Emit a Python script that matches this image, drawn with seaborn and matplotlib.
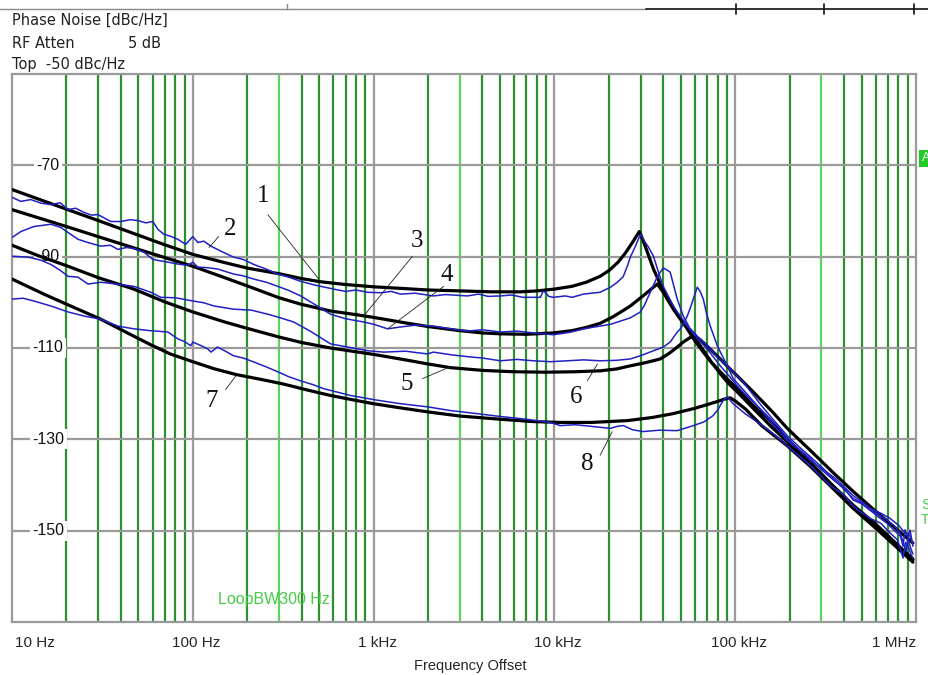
import numpy as np
import pandas as pd
import matplotlib
matplotlib.use("Agg")
import matplotlib.pyplot as plt
import matplotlib.transforms as mtransforms
from matplotlib.lines import Line2D
import seaborn as sns

# ---- data (frequency offset in Hz, phase noise in dBc/Hz) ----
# theoretical curves (black)
calc1_f = [10, 20, 31, 50, 70, 100, 150, 200, 306, 400, 510, 700, 1000, 1500, 2000, 3025, 4500,
           6480, 8000, 10000, 12500, 15000, 17900, 20100, 22500, 24700, 27000, 29500,
           31000, 33000, 35300, 39000, 43700, 48000, 54300, 60000, 66600, 74000, 82600, 92000,
           102600, 125000, 156000, 194000, 260000, 340000, 449000, 600000, 800000, 961000]
calc1_db = [-75.3, -79.6, -82.3, -85.3, -87.4, -89.5, -91.3, -92.5, -93.8, -94.8, -95.5, -96.1, -96.6, -97.0, -97.3, -97.5, -97.7,
            -97.7, -97.5, -97.1, -96.5, -95.6, -94.3, -93.0, -91.2, -89.2, -86.9, -84.5,
            -86.5, -89.5, -92.7, -96.5, -99.9, -102.8, -105.8, -108.5, -110.9, -113.2, -115.2, -117.1,
            -118.9, -122.5, -125.9, -130.0, -135.0, -139.8, -144.4, -148.6, -153.3, -156.2]

calc2_f = [10, 20, 31, 50, 70, 100, 150, 200, 300, 395, 578, 800, 1000, 1500, 2000, 3000, 4000,
           5030, 7000, 9870, 12500, 15000, 17900, 21000, 24000, 26300, 30000, 32700, 35000, 37100,
           40000, 42100, 46000, 51600, 57000, 64100, 72000, 82600, 92000, 102600, 130000, 160000,
           194000, 260000, 340000, 449000, 600000, 800000, 961000]
calc2_db = [-79.7, -83.4, -85.8, -88.4, -90.2, -92.1, -94.6, -96.4, -99.0, -100.4, -101.9, -102.7, -103.3, -104.5, -105.3, -106.2, -106.7,
            -106.9, -107.0, -106.7, -106.2, -105.5, -104.6, -103.2, -101.8, -100.8, -99.0, -97.8, -96.8, -96.0,
            -97.8, -99.3, -101.8, -104.3, -106.7, -109.5, -112.5, -115.6, -117.8, -119.6, -123.8, -127.4,
            -130.5, -135.5, -140.2, -144.7, -148.9, -153.5, -156.4]

calc3_f = [10, 14, 20.4, 30, 47.2, 70, 100, 150, 200, 300, 400, 578, 1000, 1500, 2000, 2660, 4000,
           5930, 9000, 13000, 17900, 22000, 26300, 32000, 38500, 43000, 47800, 52000, 56400, 60000,
           64100, 70000, 76000, 82600, 92000, 102600, 125700, 160000, 194000, 260000, 340000,
           449000, 600000, 800000, 961000]
calc3_db = [-87.5, -89.8, -92.1, -94.6, -97.1, -99.9, -102.1, -104.3, -105.7, -107.6, -108.8, -110.0, -111.4, -112.6, -113.5, -114.3, -114.9,
            -115.2, -115.3, -115.2, -115.0, -114.6, -113.9, -113.2, -112.4, -111.2, -109.8, -108.6, -107.7, -107.5,
            -108.2, -109.6, -111.0, -112.4, -114.3, -116.1, -119.6, -123.9, -127.6, -132.4, -136.9,
            -141.4, -145.8, -150.0, -152.7]

calc4_f = [10, 15, 20, 31, 45, 58.6, 75, 100, 130, 173, 240, 318, 430, 578, 780, 1000, 1400, 2000,
           3000, 5030, 7500, 10800, 16000, 25300, 35000, 45000, 58600, 70000, 80000, 87000, 93800,
           100000, 113500, 140000, 194000, 260000, 340000, 449000, 600000, 800000, 961000]
calc4_db = [-94.9, -98.2, -100.4, -103.7, -107.0, -109.3, -111.3, -113.0, -114.5, -115.8, -116.9, -117.9, -119.2, -120.4, -121.4, -122.2, -123.1, -124.0,
            -124.9, -125.6, -126.1, -126.3, -126.3, -125.9, -125.2, -124.4, -123.3, -122.4, -121.7, -121.2, -120.9,
            -121.6, -123.3, -127.0, -131.4, -135.9, -140.4, -145.1, -149.5, -154.0, -156.9]

# measured curves (blue)
meas1_f = [10, 11.2, 12.7, 14.5, 16.4, 18.5, 20.4, 22.5, 25.0, 27.5, 29.9, 35.2, 40.0, 45.0, 49.7, 55.0,
           60.1, 64.1, 69.2, 75.0, 82.6, 91.4, 100, 106.6, 115, 126, 145, 168, 190, 217, 250, 295,
           340, 395, 470, 601, 700, 800, 927, 1100, 1250, 1408, 1700, 2140, 2500, 3000, 3306, 3800,
           4300, 5030, 5800, 6700, 7660, 8370, 8650, 8910, 9300, 9870, 11500, 12500, 14500, 16000,
           17900, 20400, 22300, 24000, 25300, 26300, 28000, 29900, 31000, 33000, 35300, 37500,
           40000, 45400, 54300, 62000, 70000, 82600, 92000, 102600, 112000, 125700, 140000,
           156000, 175000, 194000, 229000, 260000, 295000, 357000, 400000, 449000, 500000,
           557000, 620000, 692000, 785000, 820000, 848000, 870000, 903000, 930000, 961000]
meas1_db = [-77.0, -77.9, -77.5, -78.3, -78.6, -78.2, -79.7, -79.4, -80.3, -80.9, -80.8, -82.3, -82.3, -81.9, -82.1, -82.6,
            -82.3, -84.0, -85.1, -85.5, -86.2, -87.3, -85.6, -86.9, -86.6, -87.7, -88.9, -90.1, -90.6, -91.7, -92.6, -93.8,
            -94.5, -95.4, -96.2, -97.1, -97.6, -97.3, -97.8, -97.9, -97.6, -98.2, -98.0, -98.6, -98.3, -98.5, -98.6, -98.2,
            -98.7, -98.6, -98.4, -98.9, -98.9, -98.9, -97.6, -97.8, -98.7, -98.9, -98.6, -98.9, -98.2, -98.0,
            -97.8, -96.7, -95.6, -94.4, -92.1, -90.1, -87.8, -85.1, -86.2, -87.8, -89.9, -93.2,
            -96.5, -100.8, -105.2, -108.0, -110.2, -113.9, -116.0, -118.3, -119.9, -121.8, -123.6,
            -125.5, -127.5, -129.8, -132.4, -134.2, -136.4, -139.2, -140.6, -143.3, -144.1,
            -145.5, -147.0, -148.4, -150.5, -151.2, -153.4, -149.8, -151.6, -153.6, -155.1]

meas2_f = [10, 11.2, 13.2, 16.4, 18.6, 20.4, 23.2, 26.3, 31.0, 35.0, 38.5, 43.0, 47.2, 53.6, 60.1, 66.0,
           72.8, 82.0, 93.8, 100, 106.6, 120, 137, 168, 190, 217, 255, 295, 340, 395, 470, 578,
           700, 881, 1000, 1195, 1408, 1700, 2140, 2660, 3306, 4000, 5030, 6200, 7660, 9870,
           12000, 14500, 17900, 20500, 23200, 26300, 29900, 31500, 33900, 36500, 38500, 40000,
           41500, 43700, 47800, 51600, 56000, 61700, 68000, 75500, 84000, 93800, 110600, 122000,
           137000, 160000, 194000, 225000, 260000, 300000, 357000, 449000, 500000, 557000, 620000,
           692000, 760000, 816000, 850000, 881000, 905000, 927000, 961000]
meas2_db = [-85.8, -84.5, -83.4, -82.9, -83.6, -84.7, -86.2, -86.9, -87.7, -87.5, -88.4, -88.0, -88.2, -89.0, -90.6, -90.9,
            -91.2, -91.6, -91.9, -91.2, -92.3, -92.4, -92.7, -93.8, -94.2, -94.9, -95.6, -96.5, -97.4, -98.6, -100.4, -102.6,
            -103.6, -104.3, -104.8, -105.8, -105.4, -105.0, -105.2, -105.8, -106.3, -106.0, -106.5, -106.3, -106.7, -107.1,
            -106.6, -105.8, -105.2, -104.8, -104.1, -103.4, -102.1, -100.6, -97.8, -95.0, -93.4, -92.5,
            -92.8, -93.4, -99.3, -103.0, -105.6, -107.4, -109.0, -110.9, -112.8, -114.6, -117.4, -119.6,
            -122.2, -125.4, -129.2, -131.6, -133.8, -136.0, -139.0, -142.9, -143.9, -145.5, -146.4,
            -147.7, -149.0, -150.5, -152.6, -154.5, -151.0, -149.9, -153.4]

meas3_f = [10, 12.3, 14.5, 16.4, 18.5, 20.4, 23.2, 26.3, 31.0, 38.0, 47.2, 58.6, 66.5, 80.0, 100, 115,
           131, 168, 210, 260, 300, 361, 450, 578, 700, 927, 1135, 1500, 1986, 2140, 2700, 3306,
           4000, 5030, 6200, 7660, 9500, 11800, 14500, 17900, 22000, 26300, 29900, 35300, 40000,
           43700, 47800, 49700, 52000, 54300, 56500, 58600, 61700, 64000, 66600, 69500, 72800,
           79600, 90300, 97500, 113500, 137000, 160000, 194000, 225000, 260000, 357000, 449000,
           500000, 557000, 640000, 718000, 800000, 869000, 920000, 961000]
meas3_db = [-89.9, -90.1, -90.8, -91.7, -93.0, -94.3, -94.5, -96.0, -95.6, -96.0, -96.5, -97.8, -98.9, -99.0, -99.7, -100.1,
            -100.8, -101.5, -101.7, -102.6, -103.3, -104.3, -106.4, -109.1, -109.7, -110.6, -110.9, -110.7, -111.3, -110.9, -111.5, -111.9,
            -112.2, -112.8, -112.5, -112.8, -113.0, -112.8, -112.6, -112.8, -112.7, -112.4, -111.7, -110.6, -109.8,
            -108.7, -106.5, -105.8, -104.6, -103.0, -101.2, -99.3, -96.7, -97.6, -99.3, -102.5, -105.2,
            -109.5, -113.9, -116.7, -119.6, -123.3, -126.5, -130.3, -132.2, -134.6, -138.5, -142.3,
            -143.6, -145.1, -146.2, -147.3, -148.8, -150.5, -151.0, -152.7]

meas4_f = [10, 11.5, 13.2, 16.4, 20.4, 25.0, 31.0, 38.5, 47.2, 58.0, 72.8, 82.6, 90.0, 97.5, 100, 110,
           121, 126, 137, 150, 168, 190, 209, 250, 295, 340, 395, 460, 529, 620, 746, 1000, 1408,
           2000, 2660, 3600, 5030, 7000, 9500, 10800, 13000, 16400, 20400, 22500, 24100, 27000,
           31000, 38000, 47800, 58600, 67000, 75500, 80500, 85800, 90300, 97500, 113500, 137000,
           160000, 194000, 260000, 335000, 400000, 449000, 557000, 640000, 718000, 790000, 848000,
           875000, 903000, 935000, 961000]
meas4_db = [-99.3, -99.1, -99.7, -100.8, -102.1, -103.0, -103.7, -105.2, -105.8, -106.2, -106.5, -108.0, -108.6, -109.5, -108.7, -109.4,
            -110.2, -110.9, -109.8, -110.6, -111.7, -112.2, -112.8, -114.0, -115.2, -116.3, -117.2, -118.0, -118.9, -119.6, -120.4, -121.3, -122.2,
            -122.9, -123.7, -124.3, -125.0, -125.6, -126.3, -127.0, -126.8, -127.2, -127.6, -127.1, -127.0, -127.9,
            -128.3, -128.0, -128.1, -127.0, -126.2, -124.8, -123.4, -121.5, -120.7, -122.2, -124.4, -126.6,
            -128.6, -131.4, -135.7, -140.1, -142.2, -144.7, -147.3, -148.4, -150.5, -152.0, -156.0,
            -152.6, -153.4, -155.0, -156.0]

# curve numbers with leader lines: text position, leader start, leader end
label_txt = ["1", "2", "3", "4", "5", "6", "7", "8"]
label_f = [244, 160, 1730, 2528, 1521, 13200, 127, 15200]
label_db = [-76.8, -84.0, -86.6, -94.1, -117.8, -120.7, -121.5, -135.5]
lead_f0 = [260, 139, 1641, 2440, 1866, 15200, 152, 17900]
lead_db0 = [-80.8, -85.6, -89.9, -96.5, -116.7, -117.2, -119.1, -133.5]
lead_f1 = [497, 123, 881, 1195, 2660, 17300, 173, 20900]
lead_db1 = [-94.9, -88.0, -103.0, -105.8, -114.1, -113.5, -116.1, -128.3]

y_ticks = [-70, -90, -110, -130, -150]
x_tick_f = [10, 100, 1e3, 1e4, 1e5, 1e6]
x_tick_lab = ["10 Hz", "100 Hz", "1 kHz", "10 kHz", "100 kHz", "1 MHz"]

GRAY = "#9a9a9a"
DKGREEN = "#2f8f2f"
LTGREEN = "#5fd35f"
BLUE = "#2020c4"

W, H = 929, 675

sns.set_theme(style="white")
plt.rcParams["font.family"] = ["Liberation Sans", "DejaVu Sans"]

fig = plt.figure(figsize=(W / 100, H / 100), dpi=100)
ax = fig.add_axes([12 / W, 1 - 622 / H, 904 / W, 548 / H])
ax.set_xscale("log")
ax.set_xlim(10, 1e6)
ax.set_ylim(-170, -50)

# grid: green minor verticals, gray decades and horizontals
for d in range(1, 6):
    for k in range(2, 10):
        f = k * 10 ** d
        col = LTGREEN if f in (300, 3000, 300000) else DKGREEN
        ax.axvline(f, color=col, lw=1.6, zorder=1)
for f in [100, 1e3, 1e4, 1e5]:
    ax.axvline(f, color=GRAY, lw=1.6, zorder=1)
for y in y_ticks:
    ax.axhline(y, color=GRAY, lw=1.6, zorder=1)
for s in ax.spines.values():
    s.set_color(GRAY)
    s.set_linewidth(1.6)

calc = [(calc1_f, calc1_db), (calc2_f, calc2_db), (calc3_f, calc3_db), (calc4_f, calc4_db)]
meas = [(meas1_f, meas1_db), (meas2_f, meas2_db), (meas3_f, meas3_db), (meas4_f, meas4_db)]
for f, v in calc:
    sns.lineplot(x=f, y=v, color="black", lw=2.3, sort=False, estimator=None, ax=ax, zorder=3)
for f, v in meas:
    sns.lineplot(x=f, y=v, color=BLUE, lw=1.1, sort=False, estimator=None, ax=ax, zorder=4)
ax.set_xlabel("")
ax.set_ylabel("")
ax.set_xticks([])
ax.set_yticks([])
ax.minorticks_off()

# curve numbers
for t, xf, yv, f0, v0, f1, v1 in zip(label_txt, label_f, label_db, lead_f0, lead_db0, lead_f1, lead_db1):
    ax.text(xf, yv, t, family=["Liberation Serif", "DejaVu Serif"], fontsize=18,
            ha="center", va="center", color="#111111", zorder=6)
    ax.add_line(Line2D([f0, f1], [v0, v1], color="#222222", lw=0.6, zorder=5))

# y tick labels inside plot
ytr = mtransforms.blended_transform_factory(ax.transAxes, ax.transData)
for y in y_ticks:
    ax.text(0.040, y, str(y), transform=ytr, ha="center", va="center", fontsize=11.5,
            color="#111111", zorder=2,
            bbox=dict(boxstyle="square,pad=0.15", fc="white", ec="none"))

# x tick labels
xtr = mtransforms.blended_transform_factory(ax.transData, ax.transAxes)
for i, (f, lab) in enumerate(zip(x_tick_f, x_tick_lab)):
    if i == 0:
        ax.text(f * 1.04, -0.038, lab, transform=xtr, ha="left", va="center", fontsize=11)
    elif i == len(x_tick_f) - 1:
        ax.text(f, -0.038, lab, transform=xtr, ha="right", va="center", fontsize=11)
    else:
        ax.text(f * 1.05, -0.038, lab, transform=xtr, ha="center", va="center", fontsize=11)
fig.text(470 / W, 1 - 666 / H, "Frequency Offset", ha="center", va="center", fontsize=10.5)

ax.text(280, -165, "LoopBW300 Hz", color="#44cc44", fontsize=11.5,
        ha="center", va="center", zorder=2)

# header
hdr = ["DejaVu Sans"]
fig.text(12 / W, 1 - 20 / H, "Phase Noise [dBc/Hz]", family=hdr, fontsize=10.5, color="#222222", va="center")
fig.text(12 / W, 1 - 44 / H, "RF Atten", family=hdr, fontsize=10.5, color="#222222", va="center")
fig.text(128 / W, 1 - 44 / H, "5 dB", family=hdr, fontsize=10.5, color="#222222", va="center")
fig.text(12 / W, 1 - 64 / H, "Top  -50 dBc/Hz", family=hdr, fontsize=10.5, color="#222222", va="center")

# top border remnants
fig.add_artist(Line2D([0, 646 / W], [1 - 9 / H] * 2, color="#888888", lw=1.0, transform=fig.transFigure))
fig.add_artist(Line2D([287 / W] * 2, [1 - 4 / H, 1 - 9 / H], color="#888888", lw=1.0, transform=fig.transFigure))
fig.add_artist(Line2D([646 / W, 1], [1 - 9 / H] * 2, color="#111111", lw=1.2, transform=fig.transFigure))
for px in [736, 824, 914]:
    fig.add_artist(Line2D([px / W] * 2, [1 - 4 / H, 1 - 14 / H], color="#111111", lw=1.2,
                          transform=fig.transFigure))

# right edge marker remnants
fig.text(922 / W, 1 - 158 / H, "A", fontsize=9, color="white", va="center", ha="left",
         bbox=dict(boxstyle="square,pad=0.2", fc="#22cc22", ec="none"))
fig.text(921 / W, 1 - 505 / H, "S", fontsize=10, color="#44cc44", va="center", ha="left")
fig.text(921 / W, 1 - 520 / H, "T", fontsize=10, color="#44cc44", va="center", ha="left")

fig.savefig("out.png", dpi=100, facecolor="white")
